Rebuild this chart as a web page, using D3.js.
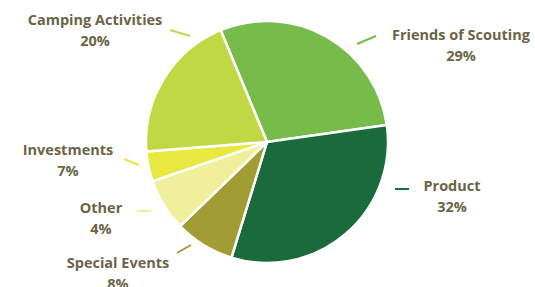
<!DOCTYPE html>
<html>
<head>
<meta charset="utf-8">
<script src="https://cdn.jsdelivr.net/npm/d3@7"></script>
<style>
  body { margin: 0; background: #fff; }
  svg text { font-family: "Open Sans", sans-serif; font-weight: 700; fill: #6b6446; }
</style>
</head>
<body>
<svg id="chart" width="535" height="287"></svg>
<script>
// slice order as drawn, clockwise from upper left
const categories = ["Friends of Scouting", "Product", "Special Events", "Other", "Investments", "Camping Activities"];
const sliceValues = [29, 32, 8, 7, 4, 20];
const pctLabels = ["29%", "32%", "8%", "4%", "7%", "20%"];
const colors = ["#77bb4b", "#1b6a3b", "#a29c35", "#f0ef9c", "#e9e841", "#c0d843"];

const width = 535, height = 287;
const cx = 267, cy = 142, radius = 121;

// label placement: text centre/baseline and leader line ends
const labelPos = [
  { x: 461, y: 40, line: [[357, 44], [376, 36]] },
  { x: 452, y: 191, line: [[395, 189], [409, 189]] },
  { x: 118, y: 268, line: [[177, 253], [191, 245]] },
  { x: 101, y: 213, line: [[137, 211], [151, 211]] },
  { x: 68, y: 155, line: [[124, 159], [139, 165]] },
  { x: 95, y: 25, line: [[170, 30], [190, 36]] }
];

const svg = d3.select("#chart");

const data = categories.map((c, i) => ({ name: c, value: sliceValues[i], pct: pctLabels[i], color: colors[i], pos: labelPos[i] }));

const toRad = deg => deg * Math.PI / 180;
const pie = d3.pie().sort(null).value(d => d.value)
  .startAngle(toRad(-22.5)).endAngle(toRad(337.5));
const arc = d3.arc().innerRadius(0).outerRadius(radius);

const g = svg.append("g").attr("transform", `translate(${cx},${cy})`);

g.selectAll("path.slice")
  .data(pie(data))
  .join("path")
  .attr("class", "slice")
  .attr("d", arc)
  .attr("fill", d => d.data.color)
  .attr("stroke", "#fff")
  .attr("stroke-width", 2.5)
  .attr("stroke-linejoin", "round");

// leader lines
svg.selectAll("line.leader")
  .data(data)
  .join("line")
  .attr("class", "leader")
  .attr("x1", d => d.pos.line[0][0])
  .attr("y1", d => d.pos.line[0][1])
  .attr("x2", d => d.pos.line[1][0])
  .attr("y2", d => d.pos.line[1][1])
  .attr("stroke", d => d.color)
  .attr("stroke-width", 2);

const labels = svg.selectAll("text.lbl")
  .data(data)
  .join("text")
  .attr("class", "lbl")
  .attr("text-anchor", "middle")
  .attr("font-size", 14.5);

labels.append("tspan")
  .attr("x", d => d.pos.x)
  .attr("y", d => d.pos.y)
  .text(d => d.name);

labels.append("tspan")
  .attr("x", d => d.pos.x)
  .attr("y", d => d.pos.y + 20.5)
  .text(d => d.pct);
</script>
</body>
</html>
